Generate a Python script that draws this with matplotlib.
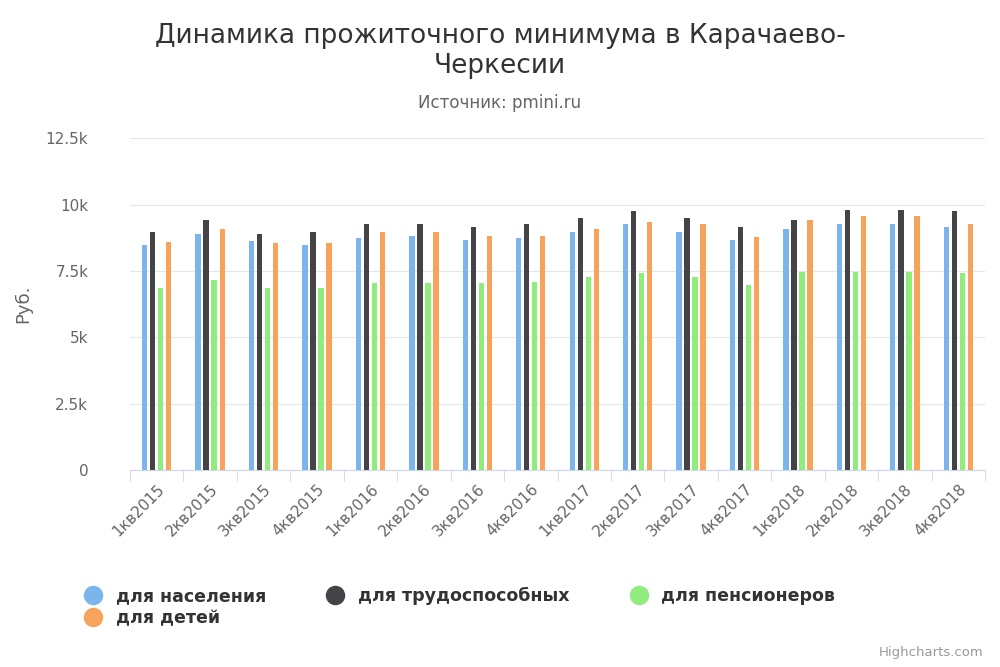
import matplotlib.pyplot as plt
import numpy as np
from matplotlib.lines import Line2D

quarters = ["1кв2015", "2кв2015", "3кв2015", "4кв2015", "1кв2016", "2кв2016", "3кв2016", "4кв2016",
            "1кв2017", "2кв2017", "3кв2017", "4кв2017", "1кв2018", "2кв2018", "3кв2018", "4кв2018"]
population = [8490, 8900, 8640, 8490, 8750, 8830, 8680, 8750, 8980, 9250, 8980, 8680, 9060, 9280, 9280, 9170]
workers = [8980, 9430, 8900, 8980, 9250, 9250, 9170, 9250, 9500, 9770, 9500, 9170, 9430, 9810, 9810, 9740]
pensioners = [6870, 7170, 6870, 6870, 7060, 7060, 7060, 7090, 7280, 7430, 7280, 6980, 7470, 7470, 7470, 7430]
children = [8600, 9060, 8570, 8570, 8980, 8980, 8830, 8830, 9060, 9360, 9250, 8790, 9430, 9580, 9580, 9280]

series = [("для населения", population, "#7cb5ec"),
          ("для трудоспособных", workers, "#434348"),
          ("для пенсионеров", pensioners, "#90ed7d"),
          ("для детей", children, "#f7a35c")]

plt.rcParams["font.family"] = "DejaVu Sans"
fig = plt.figure(figsize=(10, 6.67), dpi=100)
ax = fig.add_axes([0.13, 0.295, 0.855, 0.498])

x = np.arange(len(quarters))
w = 0.1
offsets = [-1.5, -0.5, 0.5, 1.5]
for (label, vals, color), off in zip(series, offsets):
    ax.bar(x + off * w * 1.5, vals, width=w, color=color, zorder=3)

ax.set_xlim(-0.5, len(quarters) - 0.5)
ax.set_ylim(0, 12500)
ax.set_yticks([0, 2500, 5000, 7500, 10000, 12500])
ax.set_yticklabels(["0", "2.5k", "5k", "7.5k", "10k", "12.5k"], fontsize=11, color="#666666")
ax.set_xticks(x)
ax.set_xticklabels(quarters, rotation=45, ha="right", rotation_mode="anchor", fontsize=11, color="#666666")
ax.set_xticks(np.arange(-0.5, len(quarters)), minor=True)
ax.tick_params(axis="x", which="major", length=0, pad=8)
ax.tick_params(axis="x", which="minor", length=8, color="#ccd6eb")
ax.tick_params(axis="y", length=0, pad=30)
ax.grid(axis="y", color="#e6e6e6", zorder=0)
for s in ["top", "right", "left"]:
    ax.spines[s].set_visible(False)
ax.spines["bottom"].set_color("#ccd6eb")
ax.set_ylabel("Руб.", fontsize=13, color="#666666", labelpad=10)

fig.text(0.5, 0.965, "Динамика прожиточного минимума в Карачаево-\nЧеркесии", ha="center", va="top",
         fontsize=19, color="#333333", linespacing=1.2)
fig.text(0.5, 0.845, "Источник: pmini.ru", ha="center", va="center", fontsize=12, color="#666666")

# legend is row-major in the reference; matplotlib fills column-major
order = [0, 3, 1, 2]
handles = [Line2D([], [], marker="o", linestyle="", markersize=13, color=series[i][2]) for i in order]
labels = [series[i][0] for i in order]
fig.legend(handles, labels, loc="upper left", bbox_to_anchor=(0.06, 0.143), ncol=3,
           frameon=False, columnspacing=3.0, handletextpad=0.3, labelspacing=0.2,
           prop={"weight": "bold", "size": 12.5}, labelcolor="#333333")
fig.text(0.983, 0.012, "Highcharts.com", ha="right", va="bottom", fontsize=9.5, color="#999999")

fig.savefig("out.png", dpi=100)
